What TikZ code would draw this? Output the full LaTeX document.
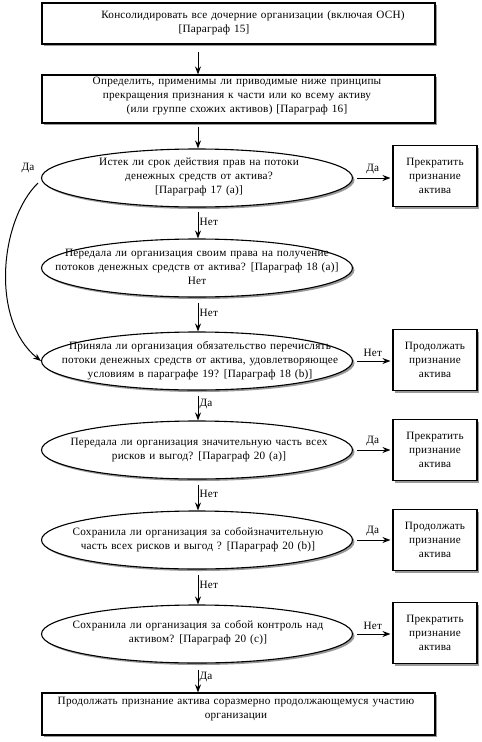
\documentclass[tikz,border=0pt]{standalone}
\usepackage{fontspec}
\setmainfont[LetterSpace=2,WordSpace=1.3]{Liberation Serif}
\usetikzlibrary{arrows.meta,shapes.geometric,shadows}
\begin{document}
\begin{tikzpicture}[x=1pt,y=-1pt,
  font=\fontsize{11.2}{14}\selectfont,
  sh/.style={drop shadow={shadow xshift=2pt,shadow yshift=-2pt,fill=black!40,opacity=1}},
  bigbox/.style={draw,line width=1.1pt,fill=white,sh,minimum width=393pt,inner sep=0pt},
  endbox/.style={draw,line width=1.1pt,fill=white,sh,minimum width=84pt,minimum height=61pt,inner sep=0pt,align=center},
  ell/.style={ellipse,draw,line width=1.1pt,fill=white,sh,minimum width=311pt,minimum height=58pt,inner sep=0pt},
  txt/.style={align=center,inner sep=0pt},
  arr/.style={-{Stealth[length=8pt,width=6pt]},line width=1pt},
  lbl/.style={inner sep=1pt}
]
\useasboundingbox (0,0) rectangle (482,742);
% top boxes
\node[bigbox,minimum height=41pt] (b1) at (238.5,23.5) {};
\node[txt] (b1a) at (253,16) {Консолидировать все дочерние организации (включая ОСН)};
\node[txt] (b1b) at (214,30) {[Параграф 15]};
\node[bigbox,minimum height=48pt] (b2) at (238.5,99) {};
\node[txt] (b2t) at (237,96) {Определить, применимы ли приводимые ниже принципы\\прекращения признания к части или ко всему активу\\(или группе схожих активов) [Параграф 16]};
% ellipses
\node[ell] (e1) at (197,178) {};
\node[txt] (e1t) at (199,177) {Истек ли срок действия прав на потоки\\денежных средств от актива?\\{}[Параграф 17 (a)]};
\node[ell] (e2) at (197,268) {};
\node[txt] (e2t) at (197,267) {Передала ли организация своим права на получение\\потоков денежных средств от актива? [Параграф 18 (a)]\\Нет};
\node[ell] (e3) at (197,361) {};
\node[txt] (e3t) at (200,361) {Приняла ли организация обязательство перечислять\\потоки денежных средств от актива, удовлетворяющее\\условиям в параграфе 19? [Параграф 18 (b)]};
\node[ell] (e4) at (197,450) {};
\node[txt] (e4t) at (199,450) {Передала ли организация значительную часть всех\\рисков и выгод? [Параграф 20 (a)]};
\node[ell] (e5) at (197,540) {};
\node[txt] (e5t) at (198,540) {Сохранила ли организация за собойзначительную\\часть всех рисков и выгод ? [Параграф 20 (b)]};
\node[ell] (e6) at (197,634) {};
\node[txt] (e6t) at (198,633) {Сохранила ли организация за собой контроль над\\активом? [Параграф 20 (c)]};
% right boxes
\node[endbox] (r1) at (435,176) {Прекратить\\признание\\актива};
\node[endbox] (r3) at (435,360) {Продолжать\\признание\\актива};
\node[endbox] (r4) at (435,450) {Прекратить\\признание\\актива};
\node[endbox] (r5) at (435,540) {Продолжать\\признание\\актива};
\node[endbox] (r6) at (435,633) {Прекратить\\признание\\актива};
% final box
\node[bigbox,minimum height=42pt] (b3) at (238.5,714) {};
\node[txt] (b3t) at (236,709) {Продолжать признание актива соразмерно продолжающемуся участию\\организации};
% vertical arrows
\draw[arr,shorten <=7pt] (b1.south -| 198,0) -- (b2.north -| 198,0);
\draw[arr,shorten <=3pt] (b2.south -| 198,0) -- (e1.north -| 198,0);
\draw[arr,shorten <=4pt] (e1.south -| 198,0) -- node[lbl,right,pos=0.45]{Нет} (e2.north -| 198,0);
\draw[arr,shorten <=5pt] (e2.south -| 198,0) -- node[lbl,right,pos=0.45]{Нет} (e3.north -| 198,0);
\draw[arr,shorten <=5pt] (e3.south -| 198,0) -- node[lbl,right,pos=0.45]{Да} (e4.north -| 198,0);
\draw[arr,shorten <=5pt] (e4.south -| 198,0) -- node[lbl,right,pos=0.45]{Нет} (e5.north -| 198,0);
\draw[arr,shorten <=5pt] (e5.south -| 198,0) -- node[lbl,right,pos=0.45]{Нет} (e6.north -| 198,0);
\draw[arr,shorten <=6pt] (e6.south -| 198,0) -- node[lbl,right,pos=0.45]{Да} (b3.north -| 198,0);
% horizontal arrows
\draw[arr,shorten <=4pt,shorten >=2pt] (e1.east) -- node[lbl,above=3pt]{Да} (r1.west |- e1.east);
\draw[arr,shorten <=4pt,shorten >=2pt] (e3.east) -- node[lbl,above=3pt]{Нет} (r3.west |- e3.east);
\draw[arr,shorten <=4pt,shorten >=2pt] (e4.east) -- node[lbl,above=3pt]{Да} (r4.west |- e4.east);
\draw[arr,shorten <=4pt,shorten >=2pt] (e5.east) -- node[lbl,above=3pt]{Да} (r5.west |- e5.east);
\draw[arr,shorten <=4pt,shorten >=2pt] (e6.east) -- node[lbl,above=3pt]{Нет} (r6.west |- e6.east);
% curved arrow
\coordinate (cs) at (38,183);
\node[lbl] (da) at (28,168) {Да};
\draw[arr] (cs) .. controls (0,220) and (-10,320) .. (e3.west);
\end{tikzpicture}
\end{document}
